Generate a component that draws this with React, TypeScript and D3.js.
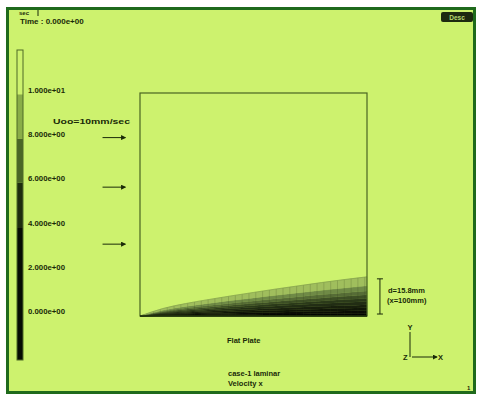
import React from 'react';
import * as d3 from 'd3';

// plate stations (mm) and boundary layer thickness (mm)
const stations = [0, 10, 20, 30, 40, 50, 60, 70, 80, 90, 100];
const thickness = [0, 3, 5, 6.6, 8.1, 9.5, 10.9, 12.2, 13.5, 14.7, 15.8];

// contour levels (mm/sec) and their height as a fraction of the layer thickness
const levels = [0, 1, 2, 3, 4, 5, 6, 7, 8, 9, 10];
const levelEta = [0, 0.07, 0.14, 0.21, 0.29, 0.37, 0.45, 0.54, 0.64, 0.77, 1.0];

// colour bar
const barTicks = [0, 2, 4, 6, 8, 10];
const barBands = [-2, 4, 6, 8, 10, 12];
const barColors = ['#060b03', '#1e2c0e', '#4a6626', '#8aad48', '#cdf26e'];

// inflow arrows (height above plate, mm)
const inflowY = [72, 52, 29];

const BG = '#cdf26e';
const INK = '#1a2a08';
const FONT = 'Liberation Sans, Arial, sans-serif';

const sci = (v: number) => {
  const [m, e] = v.toExponential(3).split('e');
  const n = Math.abs(+e);
  return `${m}e${+e < 0 ? '-' : '+'}${n < 10 ? '0' + n : n}`;
};

export default function App() {
  const W = 480, H = 398;
  const x = d3.scaleLinear().domain([0, 100]).range([140, 367]);
  const y = d3.scaleLinear().domain([0, 90]).range([316, 93]);
  const bar = d3.scaleLinear().domain([-2, 12]).range([360, 50]);
  const vel = d3.scaleLinear<string>()
    .domain([0, 3, 6, 8.5, 10])
    .range(['#000000', '#131a0a', '#30401d', '#6f8a46', '#b8d868']);

  const rows = stations.map((s, i) => ({ s, d: thickness[i] }));
  const bands = levels.slice(0, -1).map((lv, i) => {
    const area = d3.area<{ s: number; d: number }>()
      .x(r => x(r.s))
      .y0(r => y(levelEta[i] * r.d))
      .y1(r => y(levelEta[i + 1] * r.d))
      .curve(d3.curveMonotoneX);
    return { path: area(rows) || '', color: vel((lv + levels[i + 1]) / 2) };
  });
  const edge = d3.line<{ s: number; d: number }>()
    .x(r => x(r.s)).y(r => y(r.d)).curve(d3.curveMonotoneX)(rows) || '';
  const delta = d3.scaleLinear().domain(stations).range(thickness);
  const mesh = d3.range(0, 100, 3);

  const txt = { fontFamily: FONT, fontWeight: 700, fill: INK } as const;

  return (
    <svg width={W} height={H} style={{ position: 'absolute', left: 0, top: 0 }}>
      <defs>
        <marker id="ah" viewBox="0 0 6 6" refX="5" refY="3" markerWidth="5" markerHeight="5" orient="auto">
          <path d="M0,0 L6,3 L0,6 z" fill={INK} />
        </marker>
      </defs>
      <rect width={W} height={H} fill="#ffffff" />
      <rect x={7.5} y={8.5} width={467} height={384} fill={BG} stroke="#1f6a1c" strokeWidth={3} />

      {/* header */}
      <text x={19} y={15} fontSize={6} {...txt}>sec</text>
      <line x1={38} x2={38} y1={10} y2={16} stroke={INK} />
      <text x={20} y={24} fontSize={8} {...txt}>Time : 0.000e+00</text>
      <rect x={441} y={12} width={32} height={10} rx={2} fill="#1d2a10" />
      <text x={457} y={20} fontSize={6.5} textAnchor="middle" fontFamily={FONT} fontWeight={700} fill="#b8d870">Desc</text>

      {/* colour bar */}
      {barColors.map((c, i) => (
        <rect key={i} x={17} width={6} y={bar(barBands[i + 1])} height={bar(barBands[i]) - bar(barBands[i + 1])} fill={c} />
      ))}
      <rect x={17} y={bar(12)} width={6} height={bar(-2) - bar(12)} fill="none" stroke="#4f6a26" strokeWidth={1} />
      {barTicks.map(t => (
        <text key={t} x={28} y={bar(t) - 1.5} fontSize={7.5} textLength={37} lengthAdjust="spacingAndGlyphs" {...txt}>{sci(t)}</text>
      ))}
      <text x={53} y={124} fontSize={7.5} textLength={77} lengthAdjust="spacingAndGlyphs" {...txt}>Uoo=10mm/sec</text>

      {/* inflow arrows */}
      {inflowY.map(v => (
        <line key={v} x1={x(-16.5)} x2={x(-6.5)} y1={y(v)} y2={y(v)} stroke={INK} strokeWidth={1} markerEnd="url(#ah)" />
      ))}

      {/* boundary layer contours */}
      {bands.map((b, i) => (
        <path key={i} d={b.path} fill={b.color} stroke={b.color} strokeWidth={0.4} />
      ))}
      {mesh.map(m => (
        <line key={m} x1={x(m)} x2={x(m)} y1={y(0)} y2={y(delta(m))} stroke="#2b3a14" strokeOpacity={0.3} strokeWidth={0.6} />
      ))}
      <path d={edge} fill="none" stroke="#7d9a48" strokeWidth={0.6} />

      {/* domain box */}
      <rect x={x(0)} y={y(90)} width={x(100) - x(0)} height={y(0) - y(90)} fill="none" stroke="#4a6422" strokeWidth={1.2} />
      <line x1={x(0)} x2={x(100)} y1={y(0)} y2={y(0)} stroke={INK} strokeWidth={1.5} />

      {/* thickness dimension */}
      <line x1={x(105.7)} x2={x(105.7)} y1={y(0.8)} y2={y(15)} stroke={INK} strokeWidth={1} />
      <line x1={x(105.7) - 3} x2={x(105.7) + 3} y1={y(15)} y2={y(15)} stroke={INK} />
      <line x1={x(105.7) - 3} x2={x(105.7) + 3} y1={y(0.8)} y2={y(0.8)} stroke={INK} />
      <text x={388} y={293} fontSize={7.5} {...txt}>d=15.8mm</text>
      <text x={387} y={303} fontSize={7.5} {...txt}>(x=100mm)</text>

      {/* axis triad */}
      <line x1={410} x2={410} y1={357} y2={332} stroke={INK} strokeWidth={1} />
      <text x={407.5} y={330} fontSize={7.5} {...txt}>Y</text>
      <line x1={412} x2={437} y1={357} y2={357} stroke={INK} strokeWidth={1} markerEnd="url(#ah)" />
      <text x={438} y={360} fontSize={7.5} {...txt}>X</text>
      <text x={403} y={360} fontSize={7.5} {...txt}>Z</text>

      {/* captions */}
      <text x={227} y={343} fontSize={7.5} {...txt}>Flat Plate</text>
      <text x={228} y={376} fontSize={7.5} {...txt}>case-1 laminar</text>
      <text x={228} y={386} fontSize={7.5} {...txt}>Velocity x</text>
      <text x={467} y={390} fontSize={6} {...txt}>1</text>
    </svg>
  );
}
